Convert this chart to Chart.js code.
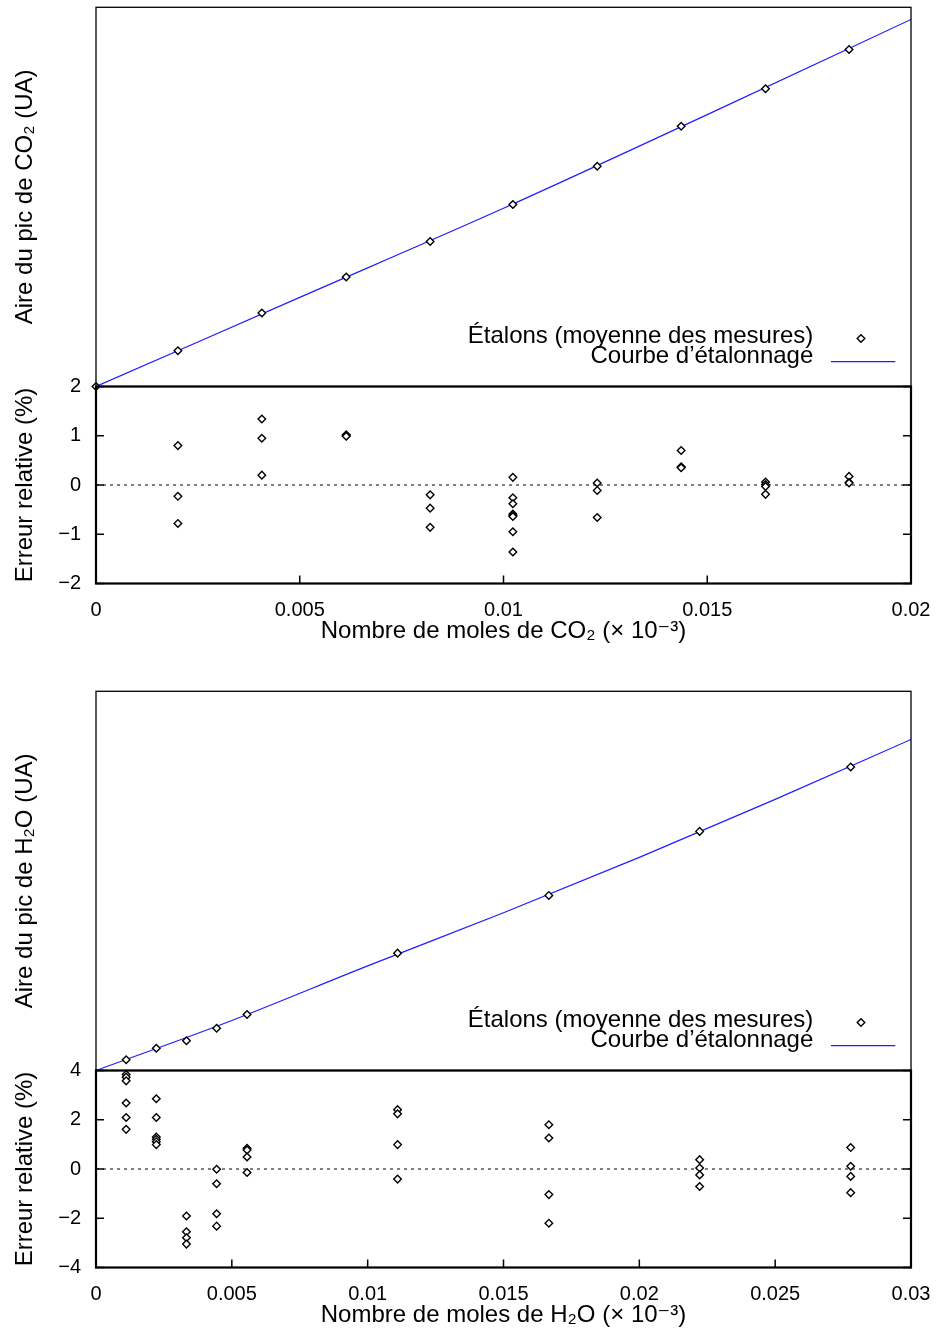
<!DOCTYPE html>
<html>
<head>
<meta charset="utf-8">
<script src="https://cdn.jsdelivr.net/npm/chart.js@4.4.0/dist/chart.umd.min.js"></script>
<style>
  html, body { margin: 0; padding: 0; background: #fff; overflow: hidden; }
  canvas { position: absolute; left: 0; }
</style>
</head>
<body>
<canvas id="co2Top" width="944" height="392" style="top:0px"></canvas>
<canvas id="co2Err" width="946" height="293" style="top:359px"></canvas>
<canvas id="h2oTop" width="944" height="392" style="top:684px"></canvas>
<canvas id="h2oErr" width="946" height="293" style="top:1043px"></canvas>
<script>
// CO2 : étalons (aire en unités arbitraires, axe sans graduation)
var co2StdX = [0, 0.00201, 0.00407, 0.00614, 0.0082, 0.01023, 0.0123, 0.01436, 0.01643, 0.01848];
var co2StdArea = [0, 9.44, 19.38, 28.88, 38.24, 48.0, 58.07, 68.62, 78.53, 88.87];
var co2CurveX = [0, 0.005, 0.01, 0.015, 0.02];
var co2CurveArea = [0, 23.5, 47.0, 71.7, 96.8];
// CO2 : erreurs relatives (%) par étalon
var co2ErrX = [0.00201, 0.00407, 0.00614, 0.0082, 0.01023, 0.0123, 0.01436, 0.01643, 0.01848];
var co2ErrPct = [
  [0.80, -0.23, -0.78],
  [1.34, 0.95, 0.20],
  [1.02, 1.00, 0.99],
  [-0.20, -0.47, -0.86],
  [0.155, -0.26, -0.38, -0.59, -0.62, -0.64, -0.95, -1.36],
  [0.04, -0.11, -0.66],
  [0.70, 0.37, 0.36, 0.35],
  [0.06, 0.01, -0.03, -0.19],
  [0.175, 0.05, 0.04]
];
var co2XTicks = [0, 0.005, 0.01, 0.015, 0.02];
var co2ErrTicks = [-2, -1, 0, 1, 2];

// H2O
var h2oStdX = [0.00111, 0.00222, 0.00333, 0.00444, 0.00556, 0.0111, 0.01667, 0.02222, 0.02778];
var h2oStdArea = [2.82, 5.88, 7.84, 11.16, 14.78, 30.95, 46.17, 63.06, 80.03];
var h2oCurveX = [0, 0.005, 0.01, 0.015, 0.02, 0.025, 0.03];
var h2oCurveArea = [0, 13.2, 27.6, 41.6, 56.2, 71.5, 87.3];
var h2oErrX = [0.00111, 0.00222, 0.00333, 0.00444, 0.00556, 0.0111, 0.01667, 0.02222, 0.02778];
var h2oErrPct = [
  [3.84, 3.73, 3.58, 2.68, 2.09, 1.61],
  [2.85, 2.09, 1.30, 1.21, 1.11, 0.99],
  [-1.91, -2.55, -2.79, -3.05],
  [-0.01, -0.60, -1.82, -2.32],
  [0.84, 0.77, 0.49, -0.14],
  [2.41, 2.24, 0.99, -0.41],
  [1.80, 1.26, -1.04, -2.20],
  [0.38, 0.04, -0.24, -0.71],
  [0.87, 0.11, -0.30, -0.96]
];
var h2oXTicks = [0, 0.005, 0.01, 0.015, 0.02, 0.025, 0.03];
var h2oErrTicks = [-4, -2, 0, 2, 4];

var FONT = "'Liberation Sans', Arial, 'DejaVu Sans', sans-serif";
Chart.defaults.font.family = FONT;
Chart.defaults.color = '#000';

function fmt(v) {
  if (v === 0) return '0';
  return (v < 0 ? '\u2212' : '') + String(+Math.abs(v).toFixed(4));
}
function pts(xs, ys) {
  return xs.map(function (x, i) { return { x: x, y: ys[i] }; });
}
function errPts(xs, groups) {
  var out = [];
  xs.forEach(function (x, i) {
    groups[i].forEach(function (e) { out.push({ x: x, y: e }); });
  });
  return out;
}

var marker = {
  pointStyle: 'rectRot', pointRadius: 3.8, pointBorderWidth: 1.4,
  pointBorderColor: '#000', pointBackgroundColor: '#fff', showLine: false, clip: false
};

// cadre + graduations tournées vers l'intérieur
var frameTicks = {
  id: 'frameTicks',
  afterDraw: function (chart, args, opts) {
    var ctx = chart.ctx, a = chart.chartArea, sx = chart.scales.x, sy = chart.scales.y;
    ctx.save();
    ctx.strokeStyle = '#000';
    if (opts.ticks) {
      ctx.lineWidth = 1.5;
      ctx.beginPath();
      sx.ticks.forEach(function (t) {
        var px = sx.getPixelForValue(t.value);
        ctx.moveTo(px, a.bottom); ctx.lineTo(px, a.bottom - 8);
      });
      sy.ticks.forEach(function (t) {
        var py = sy.getPixelForValue(t.value);
        ctx.moveTo(a.left, py); ctx.lineTo(a.left + 8, py);
        ctx.moveTo(a.right, py); ctx.lineTo(a.right - 8, py);
      });
      ctx.stroke();
    }
    ctx.lineWidth = opts.width || 1.3;
    ctx.strokeRect(a.left, a.top, a.right - a.left, a.bottom - a.top);
    ctx.restore();
  }
};

// légende dans le coin bas droit, texte aligné à droite, symbole à droite
var innerLegend = {
  id: 'innerLegend',
  afterDraw: function (chart, args, opts) {
    if (!opts.show) return;
    var ctx = chart.ctx, a = chart.chartArea;
    ctx.save();
    ctx.font = '24px ' + FONT;
    ctx.textAlign = 'right';
    ctx.textBaseline = 'alphabetic';
    chart.data.datasets.forEach(function (ds, i) {
      var base = a.bottom - (i === 0 ? 44 : 24);
      ctx.fillStyle = '#000';
      ctx.fillText(ds.label, a.right - 97.7, base);
      if (ds.showLine) {
        ctx.strokeStyle = ds.borderColor;
        ctx.lineWidth = ds.borderWidth;
        ctx.beginPath();
        ctx.moveTo(a.right - 80, base - 0.8);
        ctx.lineTo(a.right - 15.7, base - 0.8);
        ctx.stroke();
      } else {
        ctx.strokeStyle = '#000';
        ctx.fillStyle = '#fff';
        ctx.lineWidth = 1.4;
        Chart.helpers.drawPoint(ctx, { pointStyle: 'rectRot', radius: 3.8, borderWidth: 1.4, rotation: 0 }, a.right - 50, base - 4);
      }
    });
    ctx.restore();
  }
};

function setTicks(list) {
  return function (s) { s.ticks = list.map(function (v) { return { value: v }; }); };
}

function topChart(id, stdX, stdY, curX, curY, xMax, yTitle) {
  return new Chart(document.getElementById(id), {
    type: 'scatter',
    data: {
      datasets: [
        Object.assign({ label: 'Étalons (moyenne des mesures)', data: pts(stdX, stdY) }, marker),
        {
          label: 'Courbe d\u2019étalonnage', data: pts(curX, curY), showLine: true,
          borderColor: 'rgb(30,30,255)', borderWidth: 1.2, pointRadius: 0,
          cubicInterpolationMode: 'monotone'
        }
      ]
    },
    options: {
      responsive: false, animation: false,
      layout: { padding: { top: 7.3, right: 33, bottom: 5.5, left: 0 } },
      plugins: {
        legend: { display: false }, tooltip: { enabled: false },
        frameTicks: { ticks: false, width: 1.3 },
        innerLegend: { show: true }
      },
      scales: {
        x: { type: 'linear', min: 0, max: xMax, display: false },
        y: {
          type: 'linear', min: 0, max: 100,
          ticks: { display: false },
          grid: { display: false, drawTicks: false }, border: { display: false },
          title: { display: true, text: yTitle, font: { size: 24 }, padding: { top: 10.6, bottom: 0 } },
          afterFit: function (s) { s.width = 96; }
        }
      }
    },
    plugins: [frameTicks, innerLegend]
  });
}

function errChart(id, errX, errPct, xTicks, yTicks, xTitle) {
  var xMax = xTicks[xTicks.length - 1];
  return new Chart(document.getElementById(id), {
    type: 'scatter',
    data: {
      datasets: [
        Object.assign({ label: 'Erreur relative', data: errPts(errX, errPct) }, marker),
        {
          label: 'zéro', data: [{ x: 0, y: 0 }, { x: xMax, y: 0 }], showLine: true,
          borderColor: '#000', borderWidth: 1, borderDash: [3, 4], pointRadius: 0
        }
      ]
    },
    options: {
      responsive: false, animation: false,
      layout: { padding: { top: 27.5, right: 35, bottom: 0, left: 0 } },
      plugins: {
        legend: { display: false }, tooltip: { enabled: false },
        frameTicks: { ticks: true, width: 2.2 },
        innerLegend: { show: false }
      },
      scales: {
        x: {
          type: 'linear', min: 0, max: xMax,
          afterBuildTicks: setTicks(xTicks),
          ticks: { font: { size: 20 }, padding: 15, maxRotation: 0, autoSkip: false, callback: fmt },
          grid: { display: false, drawTicks: false }, border: { display: false },
          title: { display: true, text: xTitle, font: { size: 24 }, padding: { top: 0, bottom: 6 } },
          afterFit: function (s) { s.height = 68.5; }
        },
        y: {
          type: 'linear', min: yTicks[0], max: yTicks[yTicks.length - 1],
          afterBuildTicks: setTicks(yTicks),
          ticks: { font: { size: 20 }, padding: 15, autoSkip: false, callback: fmt },
          grid: { display: false, drawTicks: false }, border: { display: false },
          title: { display: true, text: 'Erreur relative (%)', font: { size: 24 }, padding: { top: 10.6, bottom: 0 } },
          afterFit: function (s) { s.width = 96; }
        }
      }
    },
    plugins: [frameTicks, innerLegend]
  });
}

topChart('co2Top', co2StdX, co2StdArea, co2CurveX, co2CurveArea, 0.02, 'Aire du pic de CO\u2082 (UA)');
errChart('co2Err', co2ErrX, co2ErrPct, co2XTicks, co2ErrTicks, 'Nombre de moles de CO\u2082 (\u00d7 10\u207b\u00b3)');
topChart('h2oTop', h2oStdX, h2oStdArea, h2oCurveX, h2oCurveArea, 0.03, 'Aire du pic de H\u2082O (UA)');
errChart('h2oErr', h2oErrX, h2oErrPct, h2oXTicks, h2oErrTicks, 'Nombre de moles de H\u2082O (\u00d7 10\u207b\u00b3)');
</script>
</body>
</html>
